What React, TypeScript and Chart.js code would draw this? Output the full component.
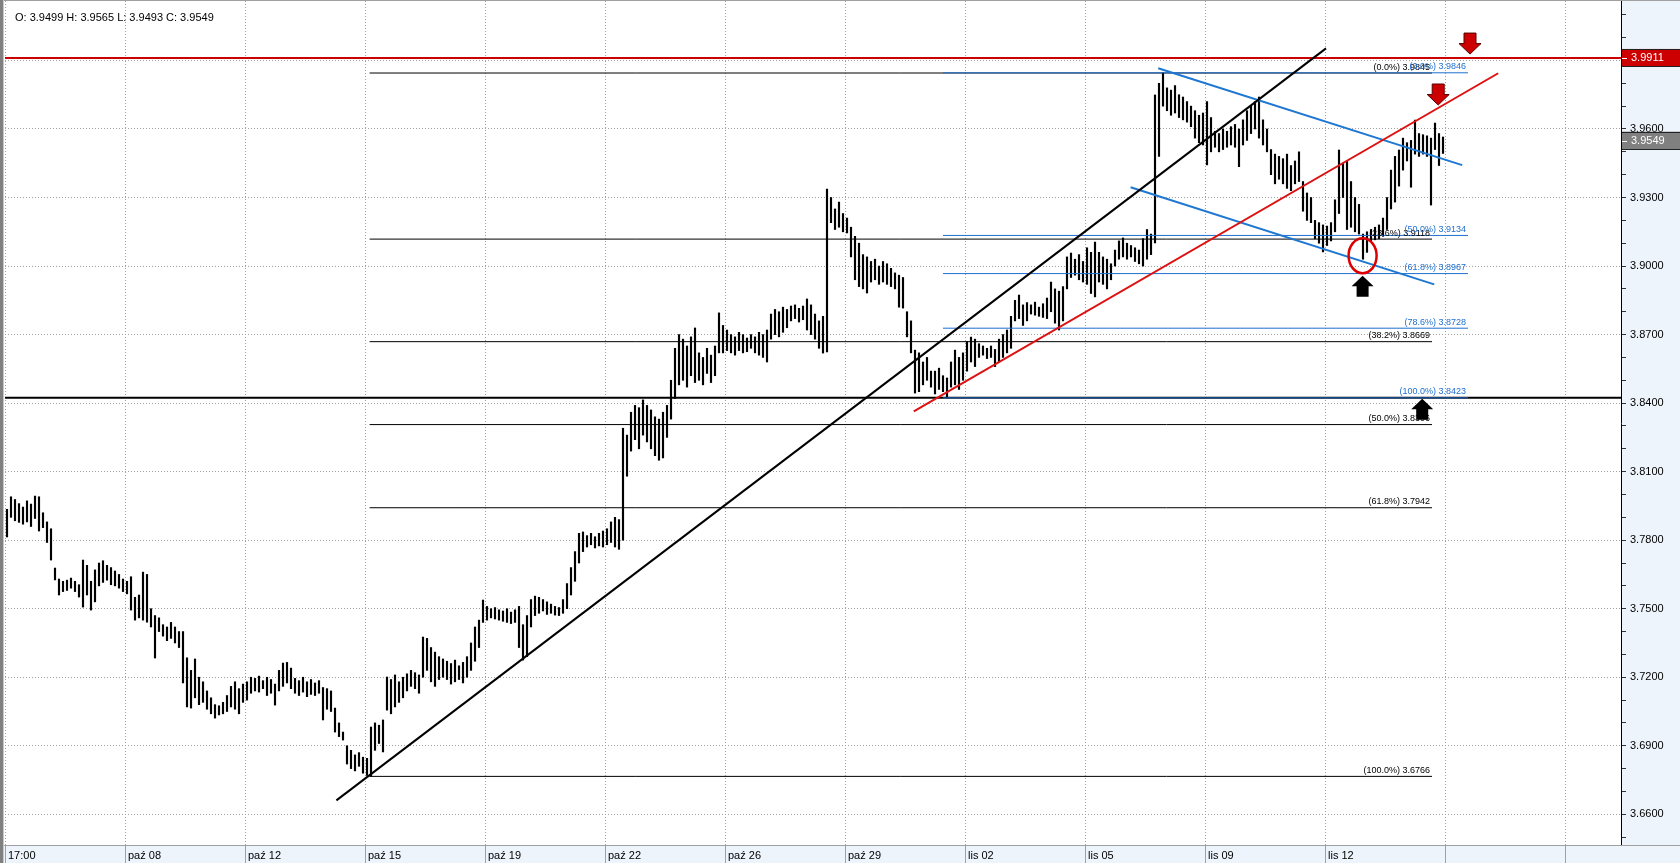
import React, { useEffect, useRef } from 'react';
import { Chart, registerables } from 'chart.js';

Chart.register(...registerables);

const FONT = "'Liberation Sans', Arial, Helvetica, sans-serif";
const PANEL_BG = '#EEF4FC';

// ---- axis ticks ----
const X_TICKS = [0, 30, 60, 90, 120, 150, 180, 210, 240, 270, 300, 330, 360, 390];
const X_LABELS = ['17:00', 'paź 08', 'paź 12', 'paź 15', 'paź 19', 'paź 22', 'paź 26', 'paź 29', 'lis 02', 'lis 05', 'lis 09', 'lis 12', '', ''];
const Y_TICKS = [
  3.65, 3.66, 3.67, 3.68, 3.69, 3.70, 3.71, 3.72, 3.73, 3.74, 3.75, 3.76, 3.77, 3.78, 3.79, 3.80, 3.81, 3.82, 3.83,
  3.84, 3.85, 3.86, 3.87, 3.88, 3.89, 3.90, 3.91, 3.92, 3.93, 3.94, 3.95, 3.96, 3.97, 3.98, 3.99, 4.00, 4.01,
];
const Y_LABELED = [3.66, 3.69, 3.72, 3.75, 3.78, 3.81, 3.84, 3.87, 3.90, 3.93, 3.96, 3.99];

// ---- price bars (high / low per bar) ----
const HIGH = [
  3.7935, 3.7990, 3.7978, 3.7960, 3.7945, 3.7972, 3.7958, 3.7993, 3.7990, 3.7920,
  3.7880, 3.7850, 3.7678, 3.7630, 3.7620, 3.7625, 3.7634, 3.7620, 3.7605, 3.7713,
  3.7690, 3.7620, 3.7670, 3.7700, 3.7710, 3.7690, 3.7680, 3.7665, 3.7650, 3.7630,
  3.7620, 3.7640, 3.7550, 3.7560, 3.7660, 3.7650, 3.7500, 3.7470, 3.7460, 3.7430,
  3.7420, 3.7440, 3.7420, 3.7400, 3.7400, 3.7285, 3.7230, 3.7280, 3.7200, 3.7180,
  3.7140, 3.7110, 3.7080, 3.7075, 3.7090, 3.7120, 3.7160, 3.7180, 3.7150, 3.7170,
  3.7180, 3.7200, 3.7195, 3.7205, 3.7185, 3.7200, 3.7190, 3.7170, 3.7230, 3.7262,
  3.7265, 3.7240, 3.7195, 3.7185, 3.7200, 3.7180, 3.7190, 3.7175, 3.7185, 3.7155,
  3.7150, 3.7140, 3.7065, 3.7000, 3.6960, 3.6900, 3.6880, 3.6860, 3.6870, 3.6850,
  3.6845, 3.6982, 3.7000, 3.6990, 3.7013, 3.7201, 3.7190, 3.7210, 3.7180, 3.7200,
  3.7215, 3.7230, 3.7220, 3.7210, 3.7376, 3.7370, 3.7330, 3.7310, 3.7290, 3.7280,
  3.7270, 3.7260, 3.7275, 3.7250, 3.7265, 3.7290, 3.7350, 3.7420, 3.7450, 3.7538,
  3.7510, 3.7500, 3.7505, 3.7495, 3.7490, 3.7500, 3.7485, 3.7495, 3.7510, 3.7430,
  3.7470, 3.7540, 3.7555, 3.7550, 3.7540, 3.7530, 3.7520, 3.7510, 3.7505, 3.7540,
  3.7610, 3.7680, 3.7750, 3.7830, 3.7836, 3.7820, 3.7830, 3.7815, 3.7830, 3.7840,
  3.7850, 3.7880, 3.7900, 3.7890, 3.8290, 3.8260, 3.8360, 3.8390, 3.8380, 3.8414,
  3.8390, 3.8370, 3.8340, 3.8330, 3.8360, 3.8390, 3.8500, 3.8640, 3.8700, 3.8680,
  3.8650, 3.8690, 3.8729, 3.8620, 3.8600, 3.8640, 3.8610, 3.8650, 3.8795, 3.8740,
  3.8720, 3.8700, 3.8690, 3.8710, 3.8700, 3.8685, 3.8700, 3.8690, 3.8710, 3.8700,
  3.8720, 3.8790, 3.8810, 3.8800, 3.8820, 3.8810, 3.8825, 3.8830, 3.8815, 3.8825,
  3.8856, 3.8830, 3.8790, 3.8760, 3.8780, 3.9337, 3.9300, 3.9250, 3.9280, 3.9230,
  3.9210, 3.9170, 3.9130, 3.9100, 3.9050, 3.9040, 3.9020, 3.9030, 3.9000, 3.9020,
  3.9010, 3.8990, 3.8970, 3.8960, 3.8950, 3.8800, 3.8760, 3.8632, 3.8620, 3.8580,
  3.8600, 3.8540, 3.8540, 3.8553, 3.8520, 3.8510, 3.8580, 3.8632, 3.8600, 3.8620,
  3.8670, 3.8689, 3.8680, 3.8660, 3.8650, 3.8640, 3.8650, 3.8635, 3.8680, 3.8700,
  3.8720, 3.8780, 3.8850, 3.8873, 3.8830, 3.8840, 3.8830, 3.8842, 3.8820, 3.8835,
  3.8860, 3.8930, 3.8900, 3.8890, 3.8910, 3.9040, 3.9057, 3.9030, 3.9050, 3.9020,
  3.9080, 3.9060, 3.9105, 3.9060, 3.9040, 3.9030, 3.9010, 3.9070, 3.9110, 3.9123,
  3.9100, 3.9090, 3.9080, 3.9070, 3.9120, 3.9160, 3.9140, 3.9749, 3.9800, 3.9846,
  3.9780, 3.9770, 3.9790, 3.9750, 3.9740, 3.9720, 3.9700, 3.9680, 3.9660, 3.9670,
  3.9720, 3.9650, 3.9590, 3.9580, 3.9600, 3.9590, 3.9610, 3.9620, 3.9600, 3.9640,
  3.9680, 3.9700, 3.9720, 3.9740, 3.9640, 3.9600, 3.9510, 3.9490, 3.9480, 3.9470,
  3.9490, 3.9440, 3.9460, 3.9500, 3.9370, 3.9320, 3.9300, 3.9200, 3.9190, 3.9180,
  3.9175, 3.9190, 3.9290, 3.9508, 3.9450, 3.9460, 3.9370, 3.9300, 3.9270, 3.9140,
  3.9150, 3.9160, 3.9170, 3.9180, 3.9210, 3.9300, 3.9420, 3.9480, 3.9508, 3.9560,
  3.9540, 3.9550, 3.9639, 3.9580, 3.9575, 3.9570, 3.9560, 3.9626, 3.9580, 3.9565,
];
const LOW = [
  3.7814, 3.7900, 3.7885, 3.7878, 3.7870, 3.7880, 3.7860, 3.7895, 3.7840, 3.7855,
  3.7790, 3.7713, 3.7626, 3.7560, 3.7575, 3.7580, 3.7590, 3.7575, 3.7551, 3.7507,
  3.7560, 3.7494, 3.7530, 3.7600, 3.7615, 3.7625, 3.7605, 3.7600, 3.7590, 3.7575,
  3.7565, 3.7494, 3.7450, 3.7460, 3.7450, 3.7441, 3.7420, 3.7284, 3.7400, 3.7380,
  3.7360, 3.7370, 3.7350, 3.7330, 3.7175, 3.7070, 3.7065, 3.7110, 3.7080, 3.7090,
  3.7060, 3.7040, 3.7021, 3.7035, 3.7040, 3.7050, 3.7070, 3.7060, 3.7040, 3.7090,
  3.7100, 3.7130, 3.7140, 3.7135, 3.7150, 3.7120, 3.7130, 3.7078, 3.7140, 3.7160,
  3.7175, 3.7150, 3.7130, 3.7120, 3.7135, 3.7115, 3.7125, 3.7120, 3.7130, 3.7013,
  3.7060, 3.7050, 3.6960, 3.6940, 3.6925, 3.6820, 3.6800, 3.6790, 3.6810, 3.6780,
  3.6770, 3.6766, 3.6880, 3.6910, 3.6873, 3.7056, 3.7040, 3.7070, 3.7090, 3.7110,
  3.7140, 3.7160, 3.7150, 3.7130, 3.7200, 3.7230, 3.7180, 3.7160, 3.7190, 3.7200,
  3.7190, 3.7170, 3.7180, 3.7190, 3.7175, 3.7200, 3.7230, 3.7270, 3.7330, 3.7440,
  3.7450, 3.7460, 3.7455, 3.7450, 3.7445, 3.7440, 3.7435, 3.7440, 3.7330, 3.7275,
  3.7290, 3.7420, 3.7470, 3.7480, 3.7490, 3.7475, 3.7480, 3.7472, 3.7470, 3.7480,
  3.7500, 3.7560, 3.7620, 3.7700, 3.7750, 3.7770, 3.7780, 3.7766, 3.7775, 3.7770,
  3.7780, 3.7790, 3.7770, 3.7760, 3.7800, 3.8080, 3.8190, 3.8240, 3.8200, 3.8260,
  3.8230, 3.8200, 3.8170, 3.8150, 3.8160, 3.8250, 3.8330, 3.8420, 3.8480, 3.8500,
  3.8470, 3.8520, 3.8490, 3.8500, 3.8480, 3.8530, 3.8490, 3.8520, 3.8620, 3.8620,
  3.8630, 3.8620, 3.8610, 3.8630, 3.8620, 3.8625, 3.8640, 3.8620, 3.8610, 3.8600,
  3.8580, 3.8680, 3.8700, 3.8690, 3.8710, 3.8730, 3.8760, 3.8770, 3.8755, 3.8765,
  3.8720, 3.8700, 3.8680, 3.8640, 3.8619, 3.8624, 3.9190, 3.9160, 3.9170, 3.9150,
  3.9145, 3.9040, 3.8940, 3.8910, 3.8900, 3.8882, 3.8930, 3.8940, 3.8920, 3.8930,
  3.8920, 3.8910, 3.8900, 3.8820, 3.8816, 3.8690, 3.8620, 3.8444, 3.8450, 3.8480,
  3.8500, 3.8470, 3.8440, 3.8460, 3.8450, 3.8423, 3.8470, 3.8480, 3.8460, 3.8500,
  3.8540, 3.8580, 3.8560, 3.8600, 3.8610, 3.8595, 3.8600, 3.8560, 3.8580, 3.8600,
  3.8620, 3.8640, 3.8760, 3.8770, 3.8740, 3.8760, 3.8790, 3.8785, 3.8780, 3.8775,
  3.8770, 3.8800, 3.8750, 3.8720, 3.8760, 3.8900, 3.8950, 3.8960, 3.8940, 3.8930,
  3.8920, 3.8880, 3.8865, 3.8930, 3.8920, 3.8900, 3.8940, 3.9000, 3.9030, 3.9040,
  3.9030, 3.9040, 3.9020, 3.9010, 3.9000, 3.9030, 3.9050, 3.9101, 3.9480, 3.9700,
  3.9680, 3.9660, 3.9670, 3.9650, 3.9640, 3.9630, 3.9610, 3.9560, 3.9540, 3.9530,
  3.9443, 3.9500, 3.9520, 3.9500, 3.9510, 3.9520, 3.9530, 3.9520, 3.9435, 3.9530,
  3.9550, 3.9580, 3.9600, 3.9560, 3.9530, 3.9500, 3.9400, 3.9360, 3.9380, 3.9360,
  3.9340, 3.9330, 3.9360, 3.9370, 3.9240, 3.9200, 3.9190, 3.9120, 3.9100, 3.9062,
  3.9090, 3.9110, 3.9150, 3.9230, 3.9300, 3.9160, 3.9170, 3.9150, 3.9140, 3.9030,
  3.9060, 3.9110, 3.9115, 3.9120, 3.9130, 3.9160, 3.9250, 3.9280, 3.9350, 3.9420,
  3.9460, 3.9345, 3.9490, 3.9480, 3.9490, 3.9480, 3.9267, 3.9510, 3.9440, 3.9493,
];

// ---- last bar header ----
const OHLC_KEYS = ['O', 'H', 'L', 'C'];
const OHLC_VALUES = [3.9499, 3.9565, 3.9493, 3.9549];

// ---- horizontal levels ----
const RESISTANCE_LEVEL = 3.9911;
const SUPPORT_LEVEL = 3.8423;
const LAST_PRICE = 3.9549;

// ---- fibonacci retracements ----
const FIB_BLACK_PCTS = ['0.0', '23.6', '38.2', '50.0', '61.8', '100.0'];
const FIB_BLACK_LEVELS = [3.9845, 3.9118, 3.8669, 3.8306, 3.7942, 3.6766];
const FIB_BLACK_SPAN = [91.15, 356.75];
const FIB_BLUE_PCTS = ['0.0', '50.0', '61.8', '78.6', '100.0'];
const FIB_BLUE_LEVELS = [3.9846, 3.9134, 3.8967, 3.8728, 3.8423];
const FIB_BLUE_SPAN = [234.5, 365.75];

// ---- trend lines [bar position, price] ----
const BLACK_TREND = [[82.85, 3.6661], [330.25, 3.9953]];
const RED_TREND = [[227.2, 3.8364], [373.3, 3.9844]];
const BLUE_UPPER = [[288.3, 3.9866], [364.3, 3.9442]];
const BLUE_LOWER = [[281.4, 3.9345], [357.3, 3.892]];

// ---- markers [bar position, price] ----
const CIRCLE_MARK = [339.4, 3.9045];
const UP_ARROWS = [[339.4, 3.8958], [354.3, 3.8419]];
const DOWN_ARROWS = [[366.25, 3.9928], [358.3, 3.9705]];

const X_MAX = 404;
const Y_MIN = 3.64656;
const Y_MAX = 4.01603;

const isLabeled = (v: number) => Y_LABELED.some((l) => Math.abs(l - v) < 1e-6);

function segment(pts: number[][]) {
  return pts.map((p) => ({ x: p[0], y: p[1] }));
}

function lineDs(pts: number[][], color: string, width: number, order: number) {
  return {
    type: 'line',
    data: segment(pts),
    borderColor: color,
    borderWidth: width,
    pointRadius: 0,
    pointHoverRadius: 0,
    fill: false,
    tension: 0,
    order,
  };
}

function drawArrow(ctx: any, x: number, tip: number, dir: number, fill: string, stroke: string | null) {
  // dir = 1: pointing up (tip at top); dir = -1: pointing down
  const headW = 22, headH = 10.5, shaftW = 12, total = 21;
  const s = dir === 1 ? 1 : -1;
  ctx.beginPath();
  ctx.moveTo(x, tip);
  ctx.lineTo(x + headW / 2, tip + s * headH);
  ctx.lineTo(x + shaftW / 2, tip + s * headH);
  ctx.lineTo(x + shaftW / 2, tip + s * total);
  ctx.lineTo(x - shaftW / 2, tip + s * total);
  ctx.lineTo(x - shaftW / 2, tip + s * headH);
  ctx.lineTo(x - headW / 2, tip + s * headH);
  ctx.closePath();
  ctx.fillStyle = fill;
  ctx.fill();
  if (stroke) {
    ctx.strokeStyle = stroke;
    ctx.lineWidth = 1;
    ctx.stroke();
  }
}

function priceBox(ctx: any, chart: any, value: number, bg: string) {
  const y = chart.scales.y.getPixelForValue(value);
  const left = chart.chartArea.right + 1;
  ctx.fillStyle = bg;
  ctx.fillRect(left, y - 9, chart.width - left, 18);
  ctx.strokeStyle = '#222';
  ctx.lineWidth = 1;
  ctx.beginPath();
  ctx.moveTo(left, Math.round(y - 9) + 0.5);
  ctx.lineTo(chart.width, Math.round(y - 9) + 0.5);
  ctx.moveTo(left, Math.round(y + 9) - 0.5);
  ctx.lineTo(chart.width, Math.round(y + 9) - 0.5);
  ctx.stroke();
  ctx.strokeStyle = '#fff';
  ctx.beginPath();
  ctx.moveTo(left, Math.round(y) + 0.5);
  ctx.lineTo(left + 5, Math.round(y) + 0.5);
  ctx.stroke();
  ctx.fillStyle = '#fff';
  ctx.font = `11px ${FONT}`;
  ctx.textAlign = 'left';
  ctx.textBaseline = 'middle';
  ctx.fillText(value.toFixed(4), left + 9, y + 0.5);
}

const decorPlugin = {
  id: 'decor',
  beforeDraw(chart: any) {
    const { ctx, width, height, chartArea } = chart;
    ctx.save();
    ctx.fillStyle = '#ffffff';
    ctx.fillRect(0, 0, width, height);
    ctx.fillStyle = PANEL_BG;
    ctx.fillRect(chartArea.right, 0, width - chartArea.right, height);
    ctx.fillRect(0, chartArea.bottom, width, height - chartArea.bottom);
    ctx.restore();
  },
  afterDatasetsDraw(chart: any) {
    const { ctx, chartArea } = chart;
    const xs = chart.scales.x;
    const ys = chart.scales.y;
    ctx.save();
    ctx.beginPath();
    ctx.rect(chartArea.left, chartArea.top, chartArea.right - chartArea.left, chartArea.bottom - chartArea.top);
    ctx.clip();

    // fib labels
    ctx.font = `9px ${FONT}`;
    ctx.textAlign = 'right';
    ctx.textBaseline = 'bottom';
    const bx = xs.getPixelForValue(FIB_BLACK_SPAN[1]) - 2;
    FIB_BLACK_LEVELS.forEach((lv, i) => {
      ctx.fillStyle = '#000';
      ctx.fillText(`(${FIB_BLACK_PCTS[i]}%) ${lv.toFixed(4)}`, bx, ys.getPixelForValue(lv) - 1.5);
    });
    const ux = xs.getPixelForValue(FIB_BLUE_SPAN[1]) - 2;
    FIB_BLUE_LEVELS.forEach((lv, i) => {
      ctx.fillStyle = '#1E6FD0';
      ctx.fillText(`(${FIB_BLUE_PCTS[i]}%) ${lv.toFixed(4)}`, ux, ys.getPixelForValue(lv) - 1.5);
    });

    // circle marker
    ctx.strokeStyle = '#DD0000';
    ctx.lineWidth = 2.5;
    ctx.beginPath();
    ctx.ellipse(xs.getPixelForValue(CIRCLE_MARK[0]), ys.getPixelForValue(CIRCLE_MARK[1]), 14, 17.5, 0, 0, Math.PI * 2);
    ctx.stroke();

    // arrows
    UP_ARROWS.forEach((a) => drawArrow(ctx, xs.getPixelForValue(a[0]), ys.getPixelForValue(a[1]), 1, '#000', null));
    DOWN_ARROWS.forEach((a) => drawArrow(ctx, xs.getPixelForValue(a[0]), ys.getPixelForValue(a[1]), -1, '#CC0000', '#5a0000'));
    ctx.restore();
  },
  afterDraw(chart: any) {
    const { ctx, width, height, chartArea } = chart;
    ctx.save();
    // band top line
    ctx.fillStyle = '#A0A0A0';
    ctx.fillRect(0, Math.round(chartArea.bottom), width, 1);
    // frame
    ctx.fillRect(0, 0, width, 1);
    ctx.fillStyle = '#808080';
    ctx.fillRect(0, 0, 3, height);
    ctx.fillStyle = '#C8C8C8';
    ctx.fillRect(3, 0, 1, height);

    // price boxes on the axis
    priceBox(ctx, chart, RESISTANCE_LEVEL, '#CC0000');
    priceBox(ctx, chart, LAST_PRICE, '#808080');

    // header
    ctx.fillStyle = '#000';
    ctx.font = `11px ${FONT}`;
    ctx.textAlign = 'left';
    ctx.textBaseline = 'middle';
    const header = OHLC_KEYS.map((k, i) => `${k}: ${OHLC_VALUES[i].toFixed(4)}`).join(' ');
    ctx.fillText(header, 15, 17.5);
    ctx.restore();
  },
};

export default function App() {
  const ref = useRef<HTMLCanvasElement | null>(null);

  useEffect(() => {
    document.body.style.margin = '0';
    document.body.style.background = '#ffffff';
    const canvas = ref.current;
    if (!canvas) return;

    const barData = HIGH.map((h, i) => ({ x: i + 0.5, y: [LOW[i], h] }));

    const datasets: any[] = [
      {
        type: 'bar',
        data: barData,
        backgroundColor: '#000000',
        borderWidth: 0,
        barThickness: 1.5,
        minBarLength: 1,
        order: 60,
      },
      lineDs([[0, SUPPORT_LEVEL], [X_MAX, SUPPORT_LEVEL]], '#000000', 2, 50),
      lineDs([[0, RESISTANCE_LEVEL], [X_MAX, RESISTANCE_LEVEL]], '#CC0000', 2, 50),
      ...FIB_BLACK_LEVELS.map((lv) => lineDs([[FIB_BLACK_SPAN[0], lv], [FIB_BLACK_SPAN[1], lv]], '#000000', 1, 40)),
      ...FIB_BLUE_LEVELS.map((lv) => lineDs([[FIB_BLUE_SPAN[0], lv], [FIB_BLUE_SPAN[1], lv]], '#1E6FD0', 1, 30)),
      lineDs(BLACK_TREND, '#000000', 2, 10),
      lineDs(RED_TREND, '#DD1111', 2, 10),
      lineDs(BLUE_UPPER, '#1E78D2', 2, 10),
      lineDs(BLUE_LOWER, '#1E78D2', 2, 10),
    ];

    const chart = new Chart(canvas, {
      type: 'bar',
      data: { datasets },
      options: {
        animation: false,
        responsive: false,
        maintainAspectRatio: false,
        events: [],
        layout: { padding: { left: 5, top: 1, right: 0, bottom: 0 } },
        plugins: {
          legend: { display: false },
          tooltip: { enabled: false },
          title: { display: false },
        },
        scales: {
          x: {
            type: 'linear',
            min: 0,
            max: X_MAX,
            offset: false,
            afterBuildTicks: (s: any) => {
              s.ticks = X_TICKS.map((v) => ({ value: v }));
            },
            afterFit: (s: any) => {
              s.height = 18;
              s.paddingLeft = 0;
              s.paddingRight = 0;
            },
            grid: {
              offset: false,
              color: '#A0A0A0',
              lineWidth: 1,
              drawTicks: true,
              tickLength: 18,
              tickColor: '#A0A0A0',
              tickBorderDash: [],
            },
            border: { display: false, dash: [1, 2] },
            ticks: {
              autoSkip: false,
              maxRotation: 0,
              minRotation: 0,
              align: 'start',
              labelOffset: 3,
              padding: -14,
              color: '#000000',
              font: { family: FONT, size: 11 },
              callback: (v: any) => {
                const i = X_TICKS.indexOf(Number(v));
                return i >= 0 ? X_LABELS[i] : '';
              },
            },
          },
          y: {
            type: 'linear',
            position: 'right',
            min: Y_MIN,
            max: Y_MAX,
            afterBuildTicks: (s: any) => {
              s.ticks = Y_TICKS.map((v) => ({ value: v }));
            },
            afterFit: (s: any) => {
              s.width = 59;
              s.paddingTop = 0;
              s.paddingBottom = 0;
            },
            grid: {
              color: (c: any) => (c.tick && isLabeled(c.tick.value) ? '#A0A0A0' : 'rgba(0,0,0,0)'),
              lineWidth: 1,
              drawTicks: true,
              tickLength: 5,
              tickColor: '#333333',
              tickBorderDash: [],
            },
            border: { display: true, color: '#000000', width: 1, dash: [1, 2] },
            ticks: {
              autoSkip: false,
              padding: 4,
              color: '#000000',
              font: { family: FONT, size: 11 },
              callback: (v: any) => (isLabeled(Number(v)) ? Number(v).toFixed(4) : ''),
            },
          },
        },
      } as any,
      plugins: [decorPlugin as any],
    } as any);

    return () => {
      chart.destroy();
    };
  }, []);

  return (
    <div style={{ width: 1680, height: 863, position: 'relative', overflow: 'hidden' }}>
      <canvas ref={ref} width={1680} height={863} style={{ display: 'block', width: 1680, height: 863 }} />
    </div>
  );
}
